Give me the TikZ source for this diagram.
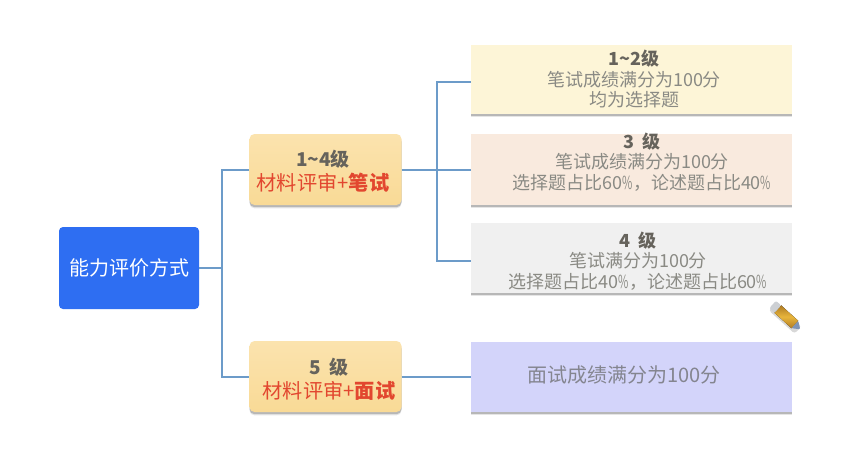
\documentclass[tikz,border=0pt]{standalone}
\usepackage{fontspec}
\usepackage{graphicx}
\setmainfont{Noto Sans CJK SC}
\usetikzlibrary{shadows,positioning}
\definecolor{linkc}{HTML}{6C9BC9}
\definecolor{txtg}{HTML}{8A8A84}
\definecolor{txtd}{HTML}{66635C}
\definecolor{txtv}{HTML}{84858F}
\definecolor{redt}{HTML}{E2472F}
\definecolor{rootb}{HTML}{2E6EF2}
\definecolor{midt}{HTML}{FBE3AE}
\definecolor{midb}{HTML}{F9DA96}
\definecolor{rfa}{HTML}{FDF5D7}
\definecolor{rfb}{HTML}{F9EADE}
\definecolor{rfc}{HTML}{F0F0F0}
\definecolor{rfd}{HTML}{D3D4FA}
\definecolor{pena}{HTML}{E8B53C}
\definecolor{penb}{HTML}{B07C24}
\definecolor{pene}{HTML}{CDD0D4}
\definecolor{pent}{HTML}{7E93B5}
\newcommand{\pc}{\scalebox{0.62}[1]{\%}}
\tikzset{
  x=1pt,y=-1pt,
  softshadow/.style={
    drop shadow={shadow xshift=0pt,shadow yshift=-3.4pt,opacity=.10,fill=black},
    drop shadow={shadow xshift=0pt,shadow yshift=-2.2pt,opacity=.20,fill=black}},
  link/.style={draw=linkc,line width=2pt},
  rootbox/.style={fill=rootb,rounded corners=4pt,minimum width=140pt,minimum height=82pt,inner sep=0pt,text=white,font=\fontsize{20}{24}\selectfont},
  midbox/.style={top color=midt,bottom color=midb,rounded corners=5pt,minimum width=152pt,minimum height=71pt,inner sep=0pt,softshadow},
  rightbox/.style={minimum width=321pt,inner sep=0pt,softshadow},
  midtext/.style={align=center,inner sep=0pt,text=redt,font=\fontsize{20.2}{24}\selectfont},
  righttext/.style={align=center,inner sep=0pt,text=txtg,font=\fontsize{18}{20.5}\selectfont}
}
\newcommand{\lv}[1]{{\fontsize{18}{20.5}\selectfont\bfseries\color{txtd}#1}}
\begin{document}
\begin{tikzpicture}
\useasboundingbox (0,0) rectangle (848,450);
\fill[white] (0,0) rectangle (848,450);
% nodes
\node[rootbox] (root) at (129,268) {能力评价方式};
\node[midbox] (m1) at (325.5,169.5) {};
\node[midbox] (m2) at (325.5,376.5) {};
\node[rightbox,fill=rfa,minimum height=69pt] (r1) at (631.5,79.5) {};
\node[rightbox,fill=rfb,minimum height=71pt] (r2) at (631.5,169.5) {};
\node[rightbox,fill=rfc,minimum height=70pt] (r3) at (631.5,258) {};
\node[rightbox,fill=rfd,minimum height=70pt] (r4) at (631.5,376.5) {};
% junctions
\coordinate (j1) at (222,268);
\coordinate (j2) at (437,169.5);
\draw[link] (root.east) -- (j1);
\draw[link] (m1.west) -| (j1) |- (m2.west);
\draw[link] (m1.east) -- (r2.west);
\draw[link] ([yshift=-2pt]r1.west) -| (j2) |- ([yshift=-2.5pt]r3.west);
\draw[link] (m2.east) -- (r4.west);
% texts
\node[midtext] (t1) at (323,171) {{\fontsize{19}{24}\selectfont\bfseries\color{txtd}1\char"7E 4级}\\材料评审+{\bfseries 笔试}};
\node[midtext] (t2) at (329,379) {{\fontsize{19}{24}\selectfont\bfseries\color{txtd}5 \,级}\\材料评审+{\bfseries 面试}};
\node[righttext] (t3) at (634,79) {\lv{1\char"7E 2级}\\笔试成绩满分为100分\\均为选择题};
\node[righttext] (t4) at (642,162) {\lv{3 \,级}\\笔试成绩满分为100分\\选择题占比60\pc，论述题占比40\pc};
\node[righttext] (t5) at (638,261) {\lv{4 \,级}\\笔试满分为100分\\选择题占比40\pc，论述题占比60\pc};
\node[righttext,text=txtv,font=\fontsize{20}{22}\selectfont] (t6) at (624,375) {面试成绩满分为100分};
% pencil
\begin{scope}[shift={(786,316.5)},rotate=-42]
  \fill[black!50,opacity=.3,rounded corners=3pt] (-17,-3) rectangle (18,7);
  \fill[top color=penb,bottom color=penb,middle color=pena] (-11,-5) rectangle (12,5);
  \fill[pene,rounded corners=2pt] (-18,-5) rectangle (-11,5);
  \fill[pent,rounded corners=1pt] (12,-5) -- (19,0) -- (12,5) -- cycle;
\end{scope}
\end{tikzpicture}
\end{document}
